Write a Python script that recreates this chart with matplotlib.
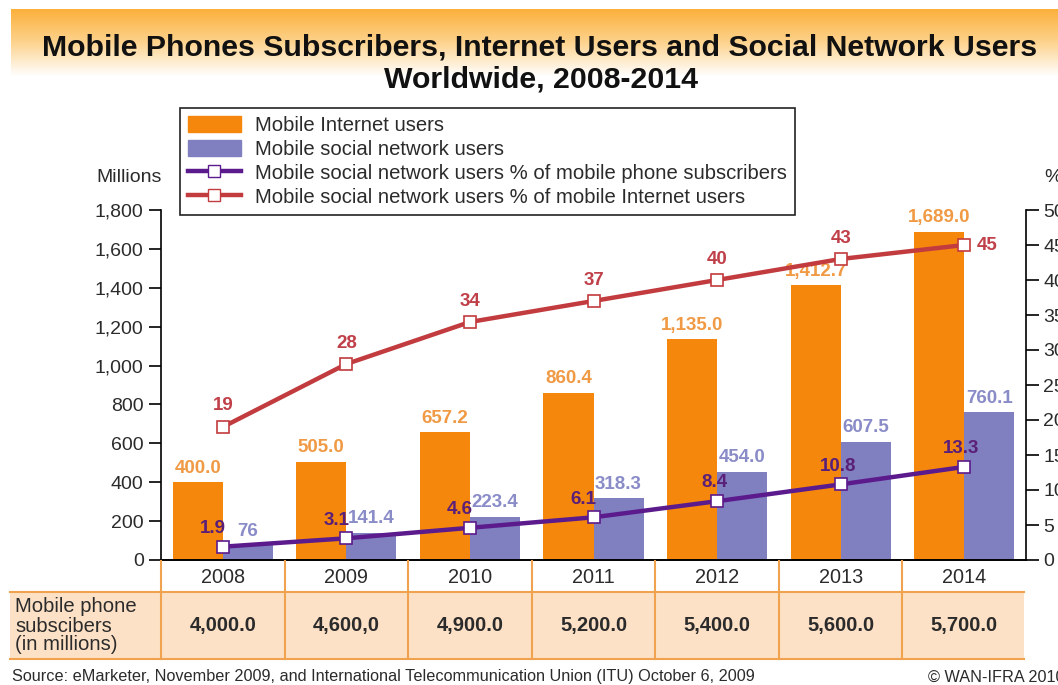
"""Mobile phone subscribers, internet users and social network users, 2008-2014."""

import numpy as np
import matplotlib
matplotlib.use("Agg")
import matplotlib.pyplot as plt
from matplotlib import transforms
from matplotlib.lines import Line2D
from matplotlib.patches import Patch, Rectangle

YEARS = ["2008", "2009", "2010", "2011", "2012", "2013", "2014"]
INTERNET_USERS = [400.0, 505.0, 657.2, 860.4, 1135.0, 1412.7, 1689.0]
SOCIAL_USERS = [76, 141.4, 223.4, 318.3, 454.0, 607.5, 760.1]
SOCIAL_PCT_SUBS = [1.9, 3.1, 4.6, 6.1, 8.4, 10.8, 13.3]
SOCIAL_PCT_INTERNET = [19, 28, 34, 37, 40, 43, 45]
INTERNET_LABELS = ["400.0", "505.0", "657.2", "860.4", "1,135.0", "1,412.7", "1,689.0"]
SOCIAL_LABELS = ["76", "141.4", "223.4", "318.3", "454.0", "607.5", "760.1"]
SUBSCRIBER_LABELS = ["4,000.0", "4,600,0", "4,900.0", "5,200.0", "5,400.0", "5,600.0", "5,700.0"]

ORANGE = "#f5870c"
ORANGE_TXT = "#f09a45"
BLUE = "#8080c0"
BLUE_TXT = "#8a8cc8"
RED = "#c23b3e"
RED_TXT = "#c0404a"
PURPLE = "#5c1b8c"
PURPLE_TXT = "#5a1f78"
TAN = "#fde1c6"
RULE = "#f0a24e"
INK = "#2b2b2b"

W, H = 1058, 685

plt.rcParams["font.family"] = ["Liberation Sans", "DejaVu Sans"]

fig = plt.figure(figsize=(W / 100, H / 100), dpi=100)


def fx(px):
    return px / W


def fy(py):
    return 1 - py / H


# header band fading from orange to white
band = fig.add_axes([fx(11), fy(76), 1 - fx(11), (76 - 9) / H], zorder=0)
grad = np.linspace(0, 1, 256).reshape(-1, 1)
band.imshow(grad, aspect="auto", cmap=matplotlib.colors.LinearSegmentedColormap.from_list(
    "hdr", ["#fbb03b", "#fdd38e", "#ffffff"]), extent=[0, 1, 0, 1])
band.axis("off")

fig.text(fx(540), fy(48), "Mobile Phones Subscribers, Internet Users and Social Network Users",
         ha="center", va="center", fontsize=21.8, fontweight="bold", color="#111111")
fig.text(fx(541), fy(80), "Worldwide, 2008-2014",
         ha="center", va="center", fontsize=21.8, fontweight="bold", color="#111111")

ax = fig.add_axes([fx(161), fy(560), fx(1026) - fx(161), 350 / H], zorder=2)
ax2 = ax.twinx()

x = np.arange(len(YEARS))
bw = 0.405
ax.bar(x - bw / 2, INTERNET_USERS, bw, color=ORANGE, zorder=2)
ax.bar(x + bw / 2, SOCIAL_USERS, bw, color=BLUE, zorder=2)

for xi, v, s in zip(x, INTERNET_USERS, INTERNET_LABELS):
    ax.annotate(s, (xi - bw / 2, v), xytext=(0, 4), textcoords="offset points",
                ha="center", va="bottom", fontsize=13.5, fontweight="bold", color=ORANGE_TXT)
for xi, v, s in zip(x, SOCIAL_USERS, SOCIAL_LABELS):
    ax.annotate(s, (xi + bw / 2, v), xytext=(0, 4), textcoords="offset points",
                ha="center", va="bottom", fontsize=13.5, fontweight="bold", color=BLUE_TXT)

ax.set_xlim(-0.5, len(YEARS) - 0.5)
ax.set_ylim(0, 1800)
ax.set_yticks(range(0, 1801, 200))
ax.set_yticklabels([f"{v:,}" for v in range(0, 1801, 200)])
ax.set_xticks(x)
ax.set_xticklabels(YEARS)
ax.tick_params(axis="x", length=0, pad=6, labelsize=14.3, labelcolor=INK)
ax.tick_params(axis="y", direction="out", length=9, width=1.2, labelsize=14, labelcolor=INK)
for side in ("top", "right"):
    ax.spines[side].set_visible(False)
ax.spines["left"].set_linewidth(1.2)
ax.spines["bottom"].set_linewidth(1.4)

# percentage lines on the right-hand scale
ax2.plot(x, SOCIAL_PCT_INTERNET, color=RED, lw=3.2, marker="s", ms=9,
         mfc="white", mec=RED, mew=1.2, zorder=4)
ax2.plot(x, SOCIAL_PCT_SUBS, color=PURPLE, lw=3.2, marker="s", ms=9,
         mfc="white", mec=PURPLE, mew=1.2, zorder=4)
for i, (xi, v) in enumerate(zip(x, SOCIAL_PCT_INTERNET)):
    if i == len(x) - 1:
        ax2.annotate(f"{v}", (xi, v), xytext=(9, 0), textcoords="offset points",
                     ha="left", va="center", fontsize=13.5, fontweight="bold", color=RED_TXT)
    else:
        ax2.annotate(f"{v}", (xi, v), xytext=(0, 9), textcoords="offset points",
                     ha="center", va="bottom", fontsize=13.5, fontweight="bold", color=RED_TXT)
for i, (xi, v) in enumerate(zip(x, SOCIAL_PCT_SUBS)):
    ha, dx = ("right", 2) if i < 4 else ("center", -2)
    ax2.annotate(f"{v}", (xi, v), xytext=(dx, 7), textcoords="offset points",
                 ha=ha, va="bottom", fontsize=13.5, fontweight="bold", color=PURPLE_TXT)

ax2.set_ylim(0, 50)
ax2.set_yticks(range(0, 51, 5))
ax2.tick_params(axis="y", direction="out", length=9, width=1.2, labelsize=14, labelcolor=INK)
for side in ("top", "left", "bottom"):
    ax2.spines[side].set_visible(False)
ax2.spines["right"].set_linewidth(1.2)

fig.text(fx(96), fy(178), "Millions", ha="left", va="center", fontsize=14, color=INK)
fig.text(fx(1044), fy(178), "%", ha="left", va="center", fontsize=14, color=INK)

handles = [
    Patch(color=ORANGE),
    Patch(color=BLUE),
    Line2D([], [], color=PURPLE, lw=3.2, marker="s", ms=9, mfc="white", mec=PURPLE),
    Line2D([], [], color=RED, lw=3.2, marker="s", ms=9, mfc="white", mec=RED),
]
labels = [
    "Mobile Internet users",
    "Mobile social network users",
    "Mobile social network users % of mobile phone subscribers",
    "Mobile social network users % of mobile Internet users",
]
leg = ax2.legend(handles, labels, loc="upper left", bbox_to_anchor=(fx(180), fy(108)),
                 bbox_transform=fig.transFigure, fontsize=14.6, frameon=True, fancybox=False,
                 edgecolor="#222222", framealpha=1, handlelength=2.6, handleheight=0.8,
                 labelspacing=0.24, borderpad=0.4, handletextpad=0.7, borderaxespad=0)
leg.get_frame().set_linewidth(1.2)
for t in leg.get_texts():
    t.set_color(INK)

# subscriber table under the axis
bt = transforms.blended_transform_factory(ax.transData, fig.transFigure)
fig.patches.append(Rectangle((fx(10), fy(659)), fx(1024) - fx(10), (659 - 592) / H,
                             transform=fig.transFigure, facecolor=TAN, edgecolor="none", zorder=0))
fig.lines.append(Line2D([fx(10), fx(1024)], [fy(592), fy(592)], transform=fig.transFigure,
                        color=RULE, lw=1.5))
fig.lines.append(Line2D([fx(10), fx(1024)], [fy(659), fy(659)], transform=fig.transFigure,
                        color=RULE, lw=1.5))
for b in np.arange(-0.5, len(YEARS) - 0.5):
    fig.lines.append(Line2D([b, b], [fy(561), fy(659)], transform=bt, color=RULE, lw=1.5))
for xi, s in zip(x, SUBSCRIBER_LABELS):
    fig.text(xi, fy(626), s, transform=bt, ha="center", va="center",
             fontsize=14.5, fontweight="bold", color=INK)
fig.text(fx(15), fy(626), "Mobile phone\nsubscibers\n(in millions)", ha="left", va="center",
         fontsize=14.6, color=INK, linespacing=1.0)

fig.text(fx(12), fy(677), "Source: eMarketer, November 2009, and International Telecommunication "
         "Union (ITU) October 6, 2009", ha="left", va="center", fontsize=11.7, color=INK)
fig.text(fx(928), fy(677), "\u00a9 WAN-IFRA 2010", ha="left", va="center", fontsize=11.7, color=INK)

fig.savefig("out.png", dpi=100)
